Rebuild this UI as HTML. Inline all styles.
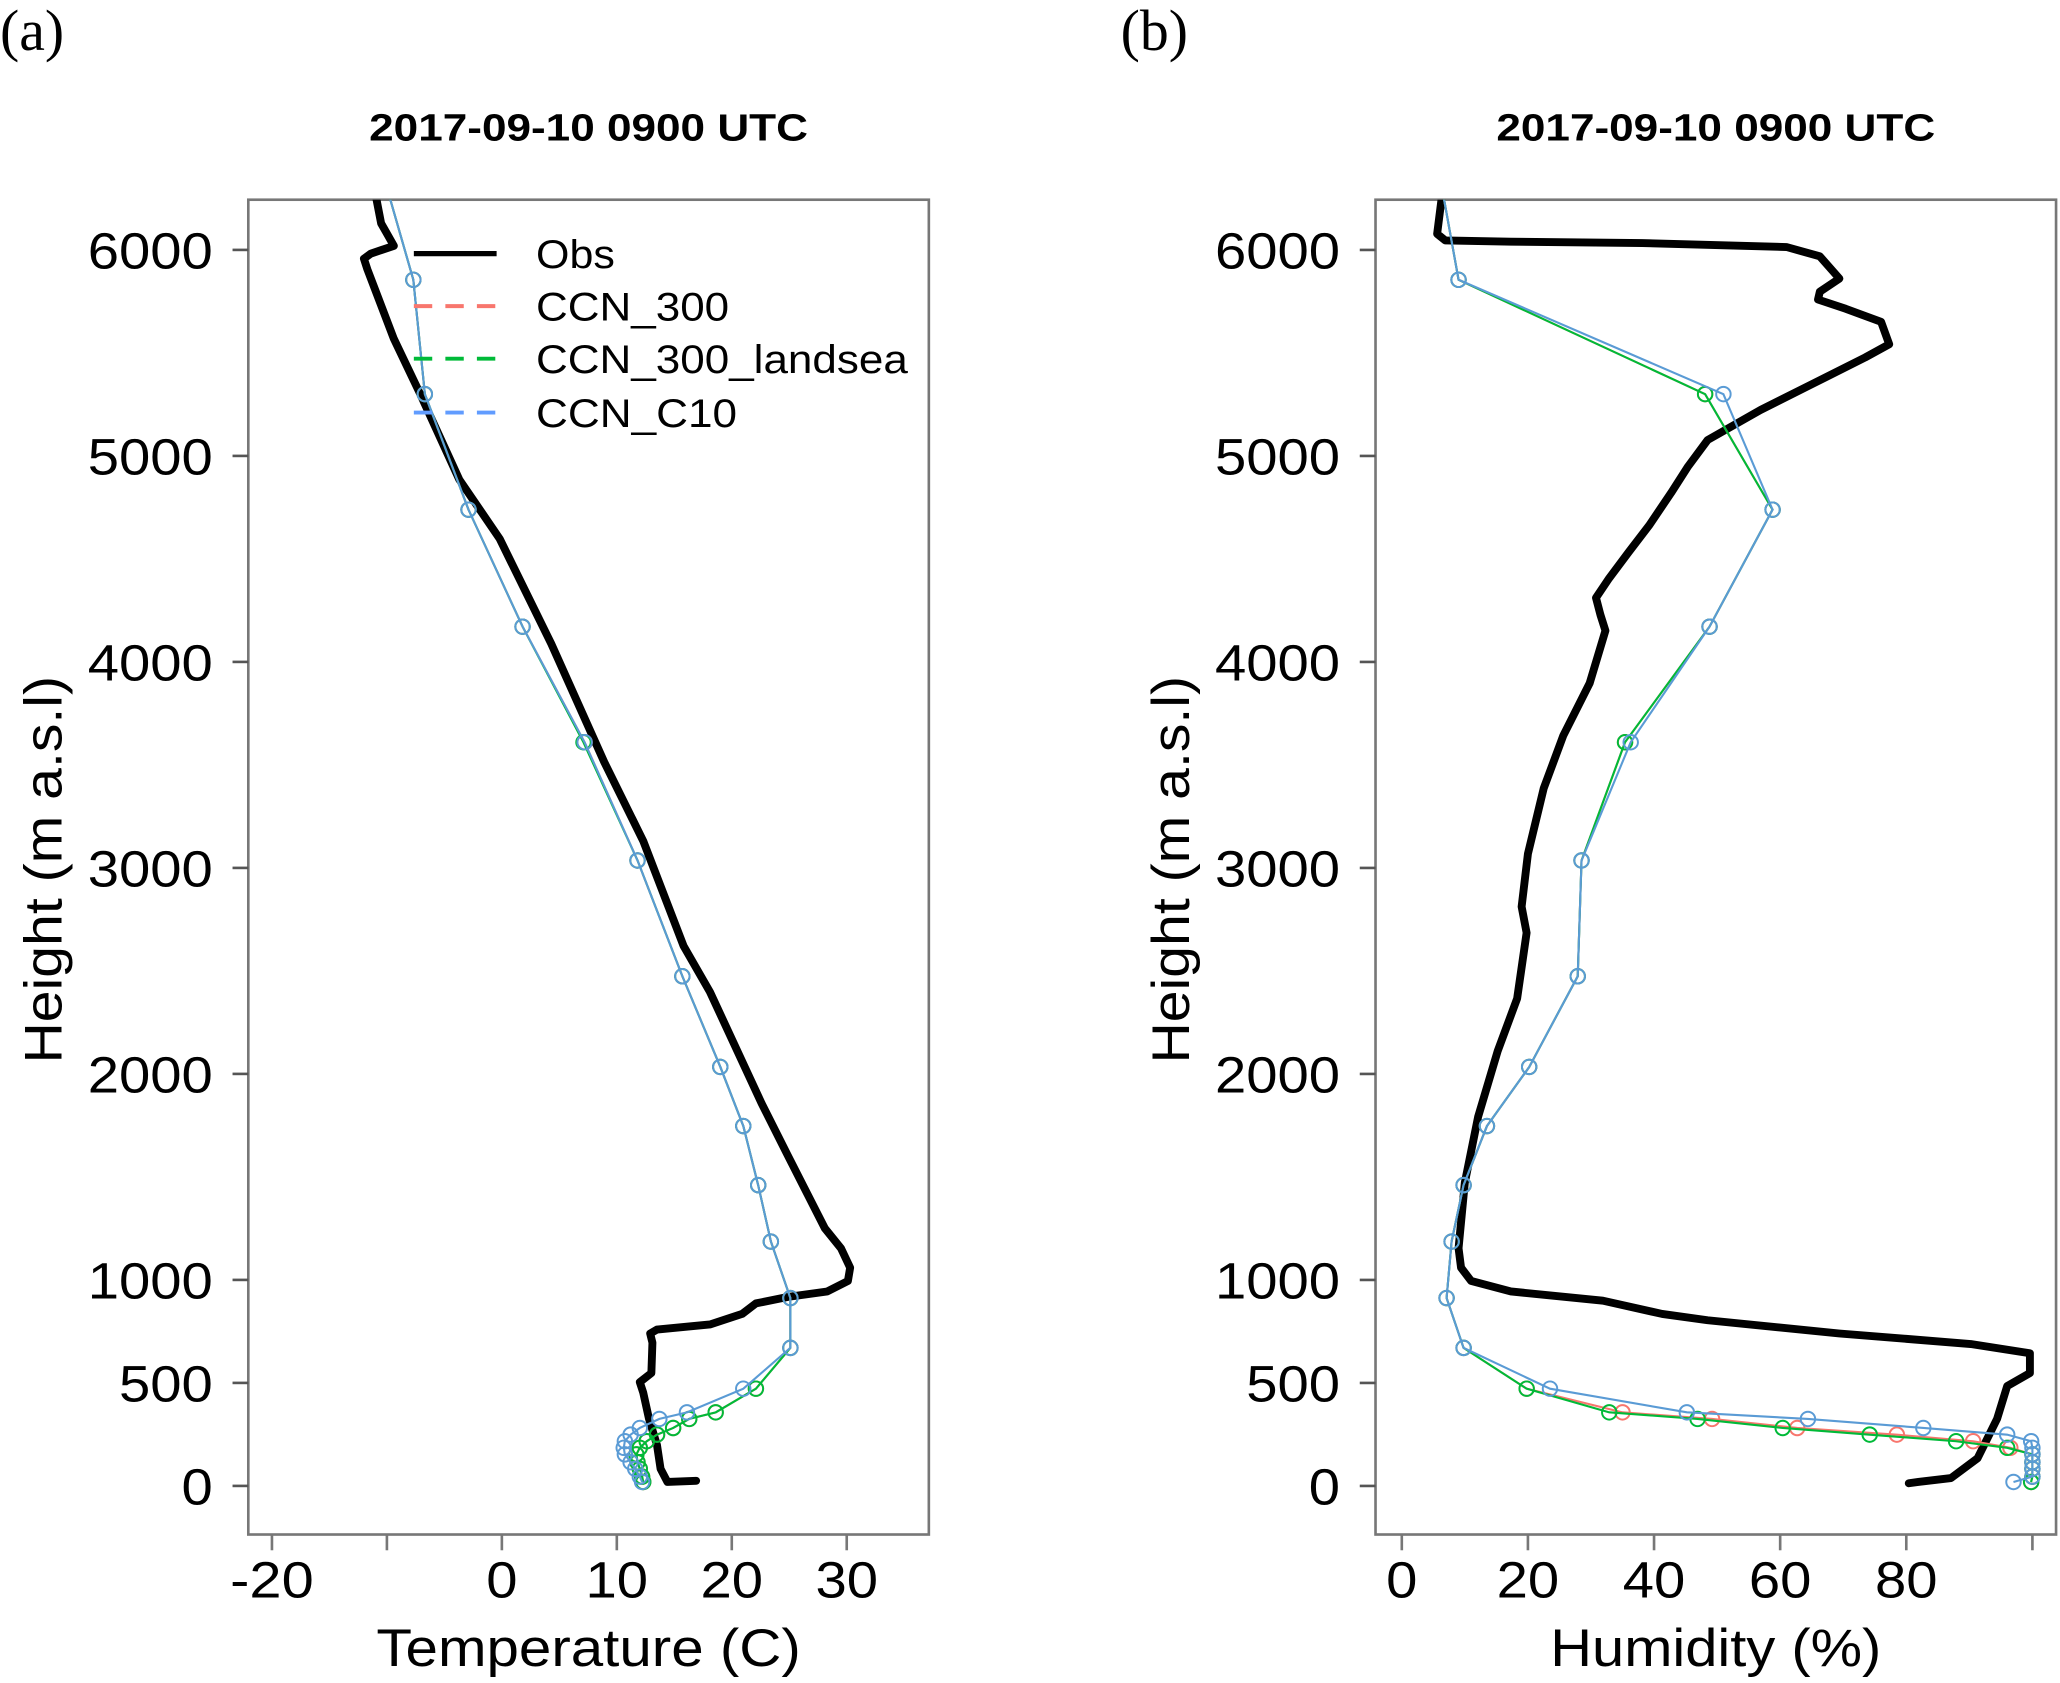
<!DOCTYPE html>
<html><head><meta charset="utf-8"><style>
html,body{margin:0;padding:0;background:#fff;}
svg{display:block;font-family:"Liberation Sans",Arial,sans-serif;}
</style></head><body>
<svg id="fig" width="2060" height="1683" viewBox="0 0 1568 1281" xmlns="http://www.w3.org/2000/svg"></svg>
<script>
// Shared model levels (m)
const modelH = [19,45,83,115,153,185,217,249,281,325,357,472,670,912,1186,1460,1747,2034,2474,3036,3610,4171,4739,5300,5855,6400];
// Temperature (C)
const tC10 = [12.2,12.0,11.6,11.2,10.7,10.6,10.7,11.2,12.0,13.7,16.1,21.0,25.1,25.1,23.4,22.3,21.0,19.0,15.7,11.8,7.2,1.8,-2.9,-6.7,-7.7,-10.5];
const t300 = [12.3,12.2,12.0,11.8,11.7,12.0,12.6,13.5,14.9,16.3,18.6,22.1,25.1,25.1,23.4,22.3,21.0,19.0,15.7,11.8,7.2,1.8,-2.9,-6.7,-7.7,-10.5];
const t300ls = [12.3,12.2,12.0,11.8,11.7,12.0,12.6,13.5,14.9,16.3,18.6,22.1,25.1,25.1,23.4,22.3,21.0,19.0,15.7,11.8,7.1,1.8,-2.9,-6.7,-7.7,-10.5];
// Humidity (%)
const hC10 = [97,100,100,100,100,100,99.8,96,82.7,64.4,45.2,23.5,9.8,7.1,7.9,9.8,13.5,20.2,27.9,28.5,36.3,48.8,58.8,51,9.0,5.8];
const h300 = [99.8,100,100,100,100,96.5,90.6,78.5,62.7,49.2,35,19.8,9.8,7.1,7.9,9.8,13.5,20.2,27.9,28.5,35.4,48.8,58.8,48.1,9.0,5.8];
const h300ls = [99.8,100,100,100,100,96,87.9,74.2,60.4,46.9,32.9,19.8,9.8,7.1,7.9,9.8,13.5,20.2,27.9,28.5,35.4,48.8,58.8,48.1,9.0,5.8];
// Observations
const obsTH = [25,19,83,198,325,453,504,548,695,740,759,784,835,886,918,944,995,1059,1154,1250,1601,1856,2398,2621,3131,3514,4088,4598,4885,5300,5568,5906,5957,5982,6020,6129,6244];
const obsT = [16.9,14.4,13.8,13.5,12.8,12.3,12.0,13.0,13.1,12.9,13.5,18.1,20.9,22.1,24.9,28.3,30.1,30.3,29.5,28.1,24.9,22.6,18.1,15.8,12.3,8.9,4.3,-0.2,-3.7,-7.1,-9.4,-11.7,-12.0,-11.4,-9.4,-10.5,-10.9];
const obsHH = [6244,6078,6046,6040,6033,6014,5969,5861,5797,5759,5714,5651,5542,5478,5351,5223,5077,4949,4821,4662,4534,4407,4311,4228,4152,3897,3642,3386,3068,2812,2685,2366,2111,1792,1473,1154,1059,995,944,899,835,804,740,689,644,548,485,325,134,38,19,13];
const obsHum = [6.3,5.6,6.9,17.3,38.1,61.0,66.3,69.4,66.3,66.0,70.4,76.0,77.3,73.5,65.2,56.9,48.5,45.4,42.7,39.2,36.0,32.9,30.8,31.5,32.3,29.8,25.6,22.5,20.0,19.0,19.8,18.3,15.2,12.1,10.0,9.0,9.4,11.0,17.3,31.9,41.3,48.5,69.4,90.2,99.6,99.6,96.0,94.4,91.3,87.1,81.9,80.4];
const yTicks = [0,500,1000,2000,3000,4000,5000,6000];
const tTicks = [-20,-10,0,10,20,30];
const tTickLabels = ["-20","","0","10","20","30"];
const hTicks = [0,20,40,60,80,100];
const hTickLabels = ["0","20","40","60","80",""];

const NS="http://www.w3.org/2000/svg";
const svg=document.getElementById('fig');
function mk(tag,attrs,parent){const e=document.createElementNS(NS,tag);for(const k in attrs)e.setAttribute(k,attrs[k]);(parent||svg).appendChild(e);return e;}
const yS=h=>1131-h*0.1568;
function numW(s){let w=0;for(const c of s)w+=(c==='-'?16:23.8);return w;}

function panel(id,x0,x1,xs,title,xlabel,xlabelW,letter,letterX,ticks,tickLabels,series,obsX,obsY){
  const g=mk('g',{});
  
  
  const clipId='clip-'+id;
  const cp=mk('clipPath',{id:clipId},g);mk('rect',{x:x0,y:152,width:x1-x0,height:1016},cp);
  const lt=mk('text',{x:letterX,y:38,'font-family':'Liberation Serif,serif','font-size':44},g);lt.textContent=letter;
  
  const tt=mk('text',{x:(x0+x1)/2,y:107,'text-anchor':'middle','font-weight':'bold','font-size':29,textLength:334,lengthAdjust:'spacingAndGlyphs'},g);tt.textContent=title;
  
  const box=mk('rect',{x:x0,y:152,width:x1-x0,height:1016,fill:'none',stroke:'#777','stroke-width':2},g);
  
  // y axis
  yTicks.forEach(v=>{const y=yS(v);mk('line',{x1:x0,x2:x0-12,y1:y,y2:y,stroke:'#555','stroke-width':2},g);
    const s=String(v);
    const t=mk('text',{x:x0-27,y:y+14,'text-anchor':'end','font-size':39,textLength:numW(s),lengthAdjust:'spacingAndGlyphs'},g);t.textContent=s;
    });
  const yt=mk('text',{x:0,y:0,'text-anchor':'middle','font-size':40,textLength:295,lengthAdjust:'spacingAndGlyphs',transform:`translate(${x0-142},662) rotate(-90)`},g);
  yt.textContent='Height (m a.s.l)';
  // x axis
  ticks.forEach((v,i)=>{const x=xs(v);mk('line',{x1:x,x2:x,y1:1168,y2:1180,stroke:'#777','stroke-width':2},g);
    if(tickLabels[i]){const t=mk('text',{x:x,y:1216,'text-anchor':'middle','font-size':39,textLength:numW(tickLabels[i]),lengthAdjust:'spacingAndGlyphs'},g);t.textContent=tickLabels[i];
    }});
  const xt=mk('text',{x:(x0+x1)/2,y:1268,'text-anchor':'middle','font-size':40,textLength:xlabelW,lengthAdjust:'spacingAndGlyphs'},g);xt.textContent=xlabel;
  
  const pg=mk('g',{'clip-path':`url(#${clipId})`},g);
  // obs
  const op=obsX.map((v,i)=>xs(v).toFixed(1)+','+yS(obsY[i]).toFixed(1)).join(' ');
  const ol=mk('polyline',{points:op,fill:'none',stroke:'#000','stroke-width':6,'stroke-linejoin':'round','stroke-linecap':'round'},pg);
  
  series.forEach(s=>{
    const pts=s.vals.map((v,i)=>xs(v).toFixed(1)+','+yS(modelH[i]).toFixed(1)).join(' ');
    const l=mk('polyline',{points:pts,fill:'none',stroke:s.col,'stroke-width':1.6},pg);
    
    s.vals.forEach((v,i)=>{const c=mk('circle',{cx:xs(v),cy:yS(modelH[i]),r:5.5,fill:'none',stroke:s.col,'stroke-width':1.5},pg);
      });
  });
  return g;
}
const xT=v=>382+v*8.75;
const xH=v=>1067+v*4.8;
panel('temperature',189,707,xT,'2017-09-10 0900 UTC','Temperature (C)',323,'(a)',0,tTicks,tTickLabels,
  [{name:'ccn-300',vals:t300,col:'#F8766D'},{name:'ccn-300-landsea',vals:t300ls,col:'#00BA38'},{name:'ccn-c10',vals:tC10,col:'#5A9BD5'}],obsT,obsTH);
panel('humidity',1047,1565,xH,'2017-09-10 0900 UTC','Humidity (%)',252,'(b)',853,hTicks,hTickLabels,
  [{name:'ccn-300',vals:h300,col:'#F8766D'},{name:'ccn-300-landsea',vals:h300ls,col:'#00BA38'},{name:'ccn-c10',vals:hC10,col:'#5A9BD5'}],obsHum,obsHH);
// legend
const leg=mk('g',{});


const legItems=[['Obs','#000','none',4,193,60],['CCN_300','#F8766D','14 10',3,233,147],['CCN_300_landsea','#00BA38','14 10',3,273,283],['CCN_C10','#619CFF','14 10',3,314,153]];
legItems.forEach(it=>{
  const e=mk('g',{},leg);
  
  
  const a={x1:315,x2:378,y1:it[4],y2:it[4],stroke:it[1],'stroke-width':it[3]};
  if(it[2]!=='none')a['stroke-dasharray']=it[2];
  mk('line',a,e);
  const t=mk('text',{x:408,y:it[4]+11,'font-size':30,textLength:it[5],lengthAdjust:'spacingAndGlyphs'},e);t.textContent=it[0];
});
</script>
</body></html>
